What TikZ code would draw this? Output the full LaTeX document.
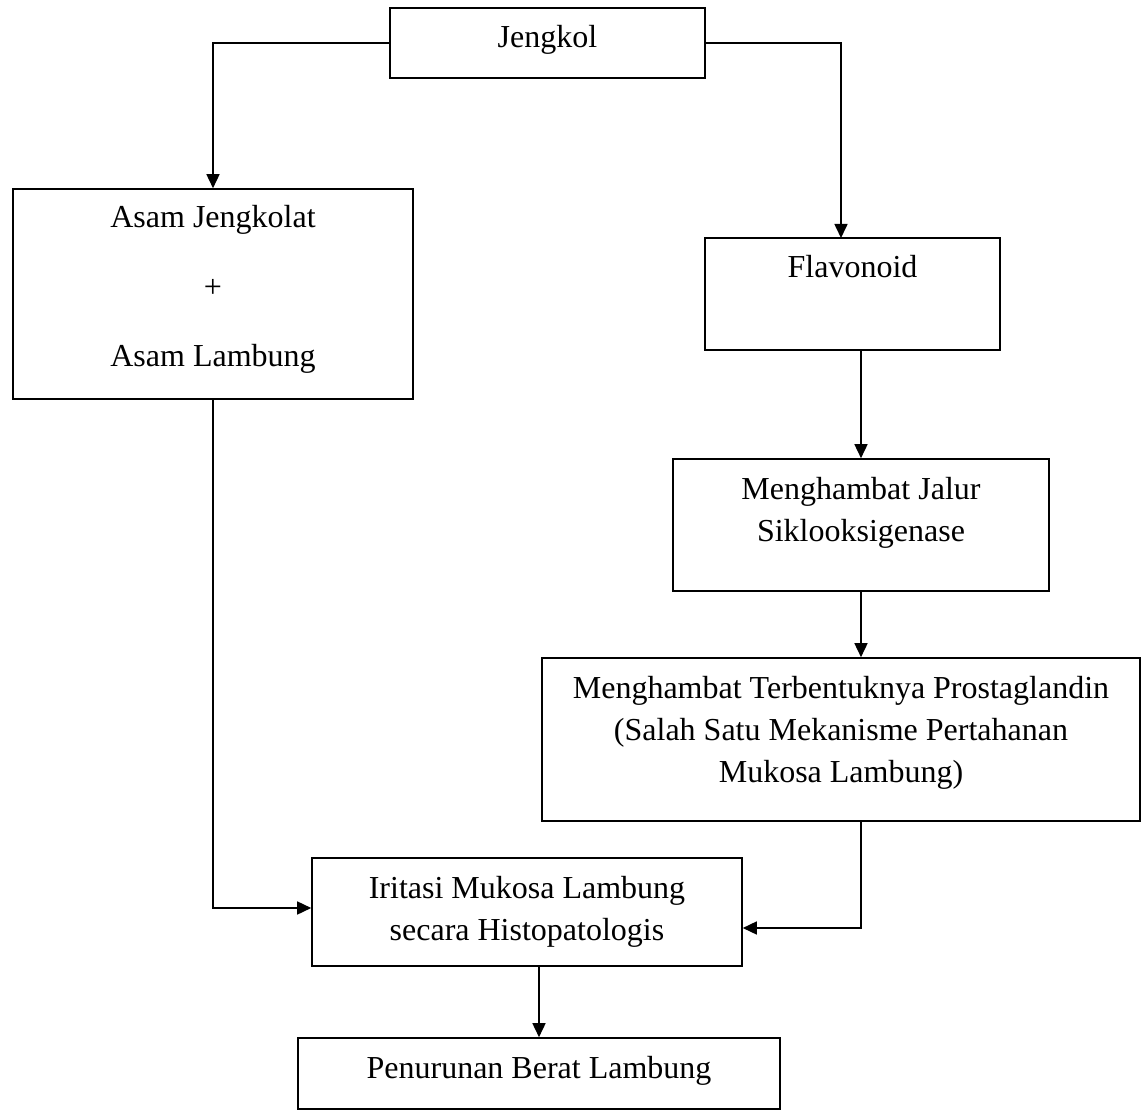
\documentclass[tikz,border=0pt]{standalone}
\usepackage{fontspec}
\setmainfont{Liberation Serif}
\usetikzlibrary{arrows.meta}
\begin{document}
\begin{tikzpicture}[x=0.5pt,y=-0.5pt,
  box/.style={draw=black, line width=0.8pt, inner sep=0pt, fill=none},
  txt/.style={anchor=base, inner sep=0pt, font=\fontsize{16}{21}\selectfont},
  conn/.style={line width=0.8pt},
  arr/.style={line width=0.8pt, -{Triangle[length=7pt,width=6.5pt]}}]
\useasboundingbox[fill=white] (0,0) rectangle (1141,1112);

% boxes
\node[box, minimum width=157.5pt, minimum height=35pt] (jengkol) at (547.5,43) {};
\node[box, minimum width=200pt, minimum height=105pt] (asam) at (213,294) {};
\node[box, minimum width=147.5pt, minimum height=56pt] (flav) at (852.5,294) {};
\node[box, minimum width=188pt, minimum height=66pt] (mj) at (861,525) {};
\node[box, minimum width=299pt, minimum height=81.5pt] (mt) at (841,739.5) {};
\node[box, minimum width=215pt, minimum height=54pt] (iri) at (527,912) {};
\node[box, minimum width=241pt, minimum height=35.5pt] (pen) at (539,1073.5) {};

% texts
\node[txt] (tj) at (547.5,48) {Jengkol};
\node[txt] (ta1) at (213,228) {Asam Jengkolat};
\node[txt] (ta2) at (213,298) {+};
\node[txt] (ta3) at (213,367) {Asam Lambung};
\node[txt] (tf) at (852.5,278) {Flavonoid};
\node[txt] (tm1) at (861,500) {Menghambat Jalur};
\node[txt] (tm2) at (861,542) {Siklooksigenase};
\node[txt] (tt1) at (841,698) {Menghambat Terbentuknya Prostaglandin};
\node[txt] (tt2) at (841,740) {(Salah Satu Mekanisme Pertahanan};
\node[txt] (tt3) at (841,782) {Mukosa Lambung)};
\node[txt] (ti1) at (527,898) {Iritasi Mukosa Lambung};
\node[txt] (ti2) at (527,940) {secara Histopatologis};
\node[txt] (tp) at (539,1078) {Penurunan Berat Lambung};

% connectors
\coordinate (cjr) at (841,238);
\draw[arr] (jengkol.west) -| (asam.north);
\draw[arr] (jengkol.east) -| (cjr);
\draw[arr] (flav.south -| mj.north) -- (mj.north);
\draw[arr] (mj.south) -- (mj.south |- mt.north);
\draw[arr] (mt.south -| mj.south) |- ([yshift=-8pt]iri.east);
\draw[arr] (asam.south) |- ([yshift=2pt]iri.west);
\draw[arr] (iri.south -| pen.north) -- (pen.north);
\end{tikzpicture}
\end{document}
